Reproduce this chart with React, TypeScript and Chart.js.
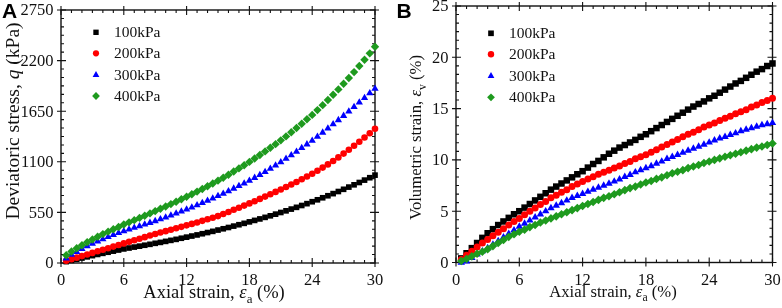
import React, { useEffect, useRef } from 'react';
import { Chart, registerables } from 'chart.js';

Chart.register(...registerables);

// ---------------- DATA ----------------
const strain = [
  0.5, 1, 1.5, 2, 2.5, 3, 3.5, 4, 4.5, 5, 5.5, 6,
  6.5, 7, 7.5, 8, 8.5, 9, 9.5, 10, 10.5, 11, 11.5, 12,
  12.5, 13, 13.5, 14, 14.5, 15, 15.5, 16, 16.5, 17, 17.5, 18,
  18.5, 19, 19.5, 20, 20.5, 21, 21.5, 22, 22.5, 23, 23.5, 24,
  24.5, 25, 25.5, 26, 26.5, 27, 27.5, 28, 28.5, 29, 29.5, 30,
];

const seriesLabels = ['100kPa', '200kPa', '300kPa', '400kPa'];

// Panel A: deviatoric stress q (kPa)
const q100 = [
  15, 28, 41, 54, 67, 80, 93, 105, 117, 129, 141, 153,
  163, 173, 183, 193, 203, 214, 224, 235, 246, 257, 269, 281,
  293, 305, 318, 331, 344, 358, 372, 386, 401, 416, 431, 447,
  463, 479, 496, 513, 531, 549, 567, 586, 605, 625, 645, 666,
  687, 709, 731, 754, 777, 801, 825, 850, 875, 901, 927, 955,
];
const q200 = [
  25, 42, 58, 75, 92, 110, 127, 144, 161, 178, 196, 213,
  230, 247, 264, 281, 299, 316, 331, 346, 361, 377, 393, 409,
  425, 441, 458, 475, 492, 510, 532, 555, 578, 601, 624, 648,
  672, 697, 722, 747, 773, 799, 826, 853, 881, 910, 940, 970,
  1003, 1037, 1072, 1109, 1148, 1189, 1231, 1274, 1318, 1364, 1411, 1460,
];
const q300 = [
  50, 90, 122, 152, 182, 210, 236, 260, 283, 305, 326, 346,
  365, 383, 401, 419, 437, 456, 476, 496, 517, 538, 560, 582,
  605, 628, 652, 677, 702, 728, 754, 781, 809, 837, 866, 895,
  926, 958, 991, 1025, 1060, 1096, 1133, 1171, 1210, 1250, 1290, 1330,
  1374, 1418, 1463, 1508, 1554, 1600, 1648, 1696, 1745, 1795, 1845, 1895,
];
const q400 = [
  85, 125, 160, 193, 225, 256, 286, 314, 341, 367, 392, 418,
  442, 466, 490, 514, 539, 564, 589, 614, 640, 666, 693, 720,
  748, 776, 805, 834, 864, 895, 927, 960, 994, 1028, 1063, 1099,
  1136, 1174, 1213, 1252, 1292, 1333, 1376, 1421, 1467, 1514, 1562, 1610,
  1662, 1716, 1771, 1828, 1887, 1948, 2011, 2075, 2141, 2209, 2279, 2350,
];

// Panel B: volumetric strain ev (%)
const ev100 = [
  0.4, 0.9, 1.4, 1.9, 2.4, 2.85, 3.25, 3.65, 4.0, 4.35, 4.7, 5.0,
  5.35, 5.7, 6.05, 6.4, 6.75, 7.1, 7.4, 7.7, 8.0, 8.3, 8.6, 8.9,
  9.25, 9.6, 9.9, 10.25, 10.6, 10.9, 11.2, 11.45, 11.7, 11.95, 12.25, 12.5,
  12.8, 13.1, 13.4, 13.7, 14.0, 14.3, 14.6, 14.9, 15.2, 15.45, 15.7, 16.0,
  16.25, 16.55, 16.85, 17.15, 17.45, 17.7, 18.0, 18.3, 18.6, 18.85, 19.15, 19.4,
];
const ev200 = [
  0.3, 0.7, 1.1, 1.5, 1.9, 2.25, 2.6, 2.95, 3.3, 3.65, 4.0, 4.3,
  4.65, 5.0, 5.3, 5.65, 5.95, 6.3, 6.55, 6.85, 7.1, 7.4, 7.65, 7.9,
  8.15, 8.35, 8.6, 8.8, 9.0, 9.2, 9.4, 9.65, 9.85, 10.1, 10.3, 10.5,
  10.75, 11.0, 11.25, 11.5, 11.75, 12.0, 12.25, 12.5, 12.7, 12.95, 13.2, 13.4,
  13.6, 13.85, 14.05, 14.25, 14.5, 14.7, 14.9, 15.15, 15.35, 15.6, 15.8, 16.0,
];
const ev300 = [
  0.0, 0.1, 0.45, 0.8, 1.1, 1.4, 1.75, 2.1, 2.45, 2.8, 3.15, 3.5,
  3.8, 4.1, 4.4, 4.7, 5.0, 5.3, 5.55, 5.8, 6.05, 6.3, 6.5, 6.7,
  6.9, 7.1, 7.3, 7.5, 7.7, 7.9, 8.1, 8.35, 8.55, 8.8, 9.0, 9.2,
  9.4, 9.65, 9.85, 10.1, 10.3, 10.5, 10.7, 10.9, 11.1, 11.3, 11.5, 11.7,
  11.9, 12.1, 12.25, 12.45, 12.6, 12.8, 12.95, 13.1, 13.25, 13.4, 13.5, 13.6,
];
const ev400 = [
  0.15, 0.35, 0.6, 0.85, 1.05, 1.3, 1.6, 1.9, 2.2, 2.5, 2.75, 3.0,
  3.2, 3.45, 3.65, 3.9, 4.1, 4.3, 4.5, 4.7, 4.9, 5.1, 5.3, 5.5,
  5.7, 5.9, 6.1, 6.3, 6.45, 6.65, 6.85, 7.05, 7.25, 7.4, 7.6, 7.8,
  7.95, 8.15, 8.3, 8.5, 8.7, 8.85, 9.0, 9.2, 9.35, 9.5, 9.7, 9.85,
  10.0, 10.15, 10.3, 10.45, 10.6, 10.75, 10.9, 11.05, 11.2, 11.3, 11.45, 11.6,
];

const xTicks = [0, 6, 12, 18, 24, 30];
const qTicks = [0, 550, 1100, 1650, 2200, 2750];
const evTicks = [0, 5, 10, 15, 20, 25];

// ---------------- STYLE ----------------
const colors = ['#000000', '#ff0000', '#0000ff', '#1e9a1e'];
const pointStyles = ['rect', 'circle', 'triangle', 'rectRot'];
const SERIF = '"Liberation Serif", "Times New Roman", serif';
const SANS = '"Liberation Sans", Arial, sans-serif';
const INK = '#111';

type Seg = { t: string; it?: boolean; sub?: boolean };

type PanelCfg = {
  id: string;
  letter: string;
  letterX: number;
  letterY: number;
  series: number[][];
  yMax: number;
  yTicks: number[];
  radii: number[];
  pad: { left: number; right: number; top: number; bottom: number };
  tickFont: number;
  xTitle: Seg[];
  xTitleSize: number;
  xTitleCx: number;
  xTitleBase: number;
  yTitle: Seg[];
  yTitleSize: number;
  yTitleBase: number;
  yTitleCy: number;
  legMarkX: number;
  legTextX: number;
  legYs: number[];
  legFont: number;
  legRadii: number[];
};

function segFont(size: number, s: Seg) {
  const sz = s.sub ? size * 0.7 : size;
  return `${s.it ? 'italic ' : ''}${sz}px ${SERIF}`;
}

function drawRich(ctx: CanvasRenderingContext2D, segs: Seg[], size: number, cx: number, base: number, rot: number) {
  ctx.save();
  ctx.translate(cx, base);
  ctx.rotate(rot);
  ctx.textAlign = 'left';
  ctx.textBaseline = 'alphabetic';
  ctx.fillStyle = INK;
  let total = 0;
  const ws = segs.map((s) => {
    ctx.font = segFont(size, s);
    const w = ctx.measureText(s.t).width;
    total += w;
    return w;
  });
  let x = -total / 2;
  segs.forEach((s, i) => {
    ctx.font = segFont(size, s);
    ctx.fillText(s.t, x, s.sub ? size * 0.28 : 0);
    x += ws[i];
  });
  ctx.restore();
}

function drawMarker(ctx: CanvasRenderingContext2D, style: string, x: number, y: number, r: number, color: string) {
  ctx.fillStyle = color;
  ctx.beginPath();
  if (style === 'rect') {
    const s = r * Math.SQRT1_2;
    ctx.rect(x - s, y - s, 2 * s, 2 * s);
  } else if (style === 'circle') {
    ctx.arc(x, y, r, 0, Math.PI * 2);
  } else if (style === 'triangle') {
    ctx.moveTo(x, y - r);
    ctx.lineTo(x + r * Math.sin((2 * Math.PI) / 3), y - r * Math.cos((2 * Math.PI) / 3));
    ctx.lineTo(x + r * Math.sin((4 * Math.PI) / 3), y - r * Math.cos((4 * Math.PI) / 3));
  } else {
    ctx.moveTo(x, y - r);
    ctx.lineTo(x + r, y);
    ctx.lineTo(x, y + r);
    ctx.lineTo(x - r, y);
  }
  ctx.closePath();
  ctx.fill();
}

const TICK_OUT = 4;
const TICK_IN = 5;
const MINOR_IN = 3;
const SUBDIV = 6;

function makePlugin(cfg: PanelCfg) {
  return {
    id: 'frame' + cfg.id,
    beforeDatasetsDraw(chart: any) {
      const { ctx, chartArea: a, scales } = chart;
      const xs = scales.x;
      const ys = scales.y;
      ctx.save();
      ctx.strokeStyle = INK;
      ctx.lineWidth = 1.4;
      ctx.strokeRect(a.left, a.top, a.right - a.left, a.bottom - a.top);
      ctx.lineWidth = 1.1;
      ctx.beginPath();
      for (let i = 0; i < xTicks.length; i++) {
        const v = xTicks[i];
        const p = xs.getPixelForValue(v);
        ctx.moveTo(p, a.bottom + TICK_OUT);
        ctx.lineTo(p, a.bottom - TICK_IN);
        ctx.moveTo(p, a.top - TICK_OUT);
        ctx.lineTo(p, a.top + TICK_IN);
        if (i < xTicks.length - 1) {
          for (let k = 1; k < SUBDIV; k++) {
            const mp = xs.getPixelForValue(v + ((xTicks[i + 1] - v) * k) / SUBDIV);
            ctx.moveTo(mp, a.bottom);
            ctx.lineTo(mp, a.bottom - MINOR_IN);
            ctx.moveTo(mp, a.top);
            ctx.lineTo(mp, a.top + MINOR_IN);
          }
        }
      }
      const yt = cfg.yTicks;
      for (let i = 0; i < yt.length; i++) {
        const v = yt[i];
        const p = ys.getPixelForValue(v);
        ctx.moveTo(a.left - TICK_OUT, p);
        ctx.lineTo(a.left + TICK_IN, p);
        ctx.moveTo(a.right + TICK_OUT, p);
        ctx.lineTo(a.right - TICK_IN, p);
        if (i < yt.length - 1) {
          for (let k = 1; k < SUBDIV; k++) {
            const mp = ys.getPixelForValue(v + ((yt[i + 1] - v) * k) / SUBDIV);
            ctx.moveTo(a.left, mp);
            ctx.lineTo(a.left + MINOR_IN, mp);
            ctx.moveTo(a.right, mp);
            ctx.lineTo(a.right - MINOR_IN, mp);
          }
        }
      }
      ctx.stroke();
      ctx.restore();
    },
    afterDraw(chart: any) {
      const { ctx, chartArea: a, scales } = chart;
      const xs = scales.x;
      const ys = scales.y;
      ctx.save();
      ctx.fillStyle = INK;
      ctx.font = `${cfg.tickFont}px ${SERIF}`;
      // x tick labels
      ctx.textAlign = 'center';
      ctx.textBaseline = 'alphabetic';
      xTicks.forEach((v) => {
        ctx.fillText(String(v), xs.getPixelForValue(v), a.bottom + 22);
      });
      // y tick labels
      ctx.textAlign = 'right';
      ctx.textBaseline = 'middle';
      cfg.yTicks.forEach((v) => {
        ctx.fillText(String(v), a.left - 7.5, ys.getPixelForValue(v) + 1);
      });
      // axis titles
      drawRich(ctx, cfg.xTitle, cfg.xTitleSize, cfg.xTitleCx, cfg.xTitleBase, 0);
      drawRich(ctx, cfg.yTitle, cfg.yTitleSize, cfg.yTitleBase, cfg.yTitleCy, -Math.PI / 2);
      // legend
      ctx.font = `${cfg.legFont}px ${SERIF}`;
      ctx.textAlign = 'left';
      ctx.textBaseline = 'middle';
      seriesLabels.forEach((lab, i) => {
        const y = cfg.legYs[i];
        drawMarker(ctx, pointStyles[i], cfg.legMarkX, y, cfg.legRadii[i], colors[i]);
        ctx.fillStyle = INK;
        ctx.fillText(lab, cfg.legTextX, y + 1);
      });
      // panel letter
      ctx.font = `bold 21px ${SANS}`;
      ctx.textAlign = 'left';
      ctx.textBaseline = 'alphabetic';
      ctx.fillStyle = '#000';
      ctx.fillText(cfg.letter, cfg.letterX, cfg.letterY);
      ctx.restore();
    },
  };
}

const panelA: PanelCfg = {
  id: 'A',
  letter: 'A',
  letterX: 2,
  letterY: 17.5,
  series: [q100, q200, q300, q400],
  yMax: 2750,
  yTicks: qTicks,
  radii: [4.0, 3.3, 4.2, 4.2],
  pad: { left: 61, right: 16, top: 10, bottom: 45 },
  tickFont: 16.5,
  xTitle: [{ t: 'Axial strain, ' }, { t: 'ε', it: true }, { t: 'a', sub: true }, { t: ' (%)' }],
  xTitleSize: 18.5,
  xTitleCx: 214,
  xTitleBase: 297.5,
  yTitle: [{ t: 'Deviatoric stress, ' }, { t: 'q', it: true }, { t: ' (kPa)' }],
  yTitleSize: 19.5,
  yTitleBase: 18.5,
  yTitleCy: 121,
  legMarkX: 96,
  legTextX: 114,
  legYs: [32.3, 53.3, 75, 96],
  legFont: 15.5,
  legRadii: [3.8, 3.1, 3.9, 3.9],
};

const panelB: PanelCfg = {
  id: 'B',
  letter: 'B',
  letterX: 5.5,
  letterY: 17.5,
  series: [ev100, ev200, ev300, ev400],
  yMax: 25,
  yTicks: evTicks,
  radii: [4.6, 3.5, 4.3, 4.3],
  pad: { left: 65, right: 9.5, top: 6, bottom: 45.5 },
  tickFont: 16.5,
  xTitle: [{ t: 'Axial strain, ' }, { t: 'ε', it: true }, { t: 'a', sub: true }, { t: ' (%)' }],
  xTitleSize: 16.7,
  xTitleCx: 222,
  xTitleBase: 296.5,
  yTitle: [{ t: 'Volumetric strain, ' }, { t: 'ε', it: true }, { t: 'v', sub: true }, { t: ' (%)' }],
  yTitleSize: 16.7,
  yTitleBase: 30,
  yTitleCy: 137.5,
  legMarkX: 100,
  legTextX: 118,
  legYs: [33.3, 54.3, 76, 97.3],
  legFont: 15.5,
  legRadii: [4.0, 3.2, 3.9, 3.9],
};

function Panel({ cfg, left }: { cfg: PanelCfg; left: number }) {
  const ref = useRef<HTMLCanvasElement>(null);
  useEffect(() => {
    const canvas = ref.current;
    if (!canvas) return;
    const chart = new Chart(canvas, {
      type: 'scatter',
      data: {
        datasets: seriesLabels.map((lab, i) => ({
          label: lab,
          data: strain.map((x, j) => ({ x, y: cfg.series[i][j] })),
          pointStyle: pointStyles[i] as any,
          pointRadius: cfg.radii[i],
          pointHoverRadius: cfg.radii[i],
          backgroundColor: colors[i],
          borderColor: colors[i],
          pointBorderWidth: 0,
          showLine: false,
          clip: false as any,
          order: 4 - i,
        })),
      },
      options: {
        responsive: false,
        animation: false,
        devicePixelRatio: 1,
        events: [],
        layout: { padding: cfg.pad },
        plugins: { legend: { display: false }, tooltip: { enabled: false } },
        scales: {
          x: { type: 'linear', min: 0, max: 30, display: false },
          y: { type: 'linear', min: 0, max: cfg.yMax, display: false },
        },
      },
      plugins: [makePlugin(cfg)],
    });
    return () => chart.destroy();
  }, [cfg]);
  return (
    <canvas
      ref={ref}
      width={391}
      height={308}
      style={{ position: 'absolute', left, top: 0, width: 391, height: 308 }}
    />
  );
}

export default function App() {
  return (
    <div style={{ position: 'fixed', left: 0, top: 0, width: 782, height: 308, background: '#fff', overflow: 'hidden' }}>
      <Panel cfg={panelA} left={0} />
      <Panel cfg={panelB} left={391} />
    </div>
  );
}
